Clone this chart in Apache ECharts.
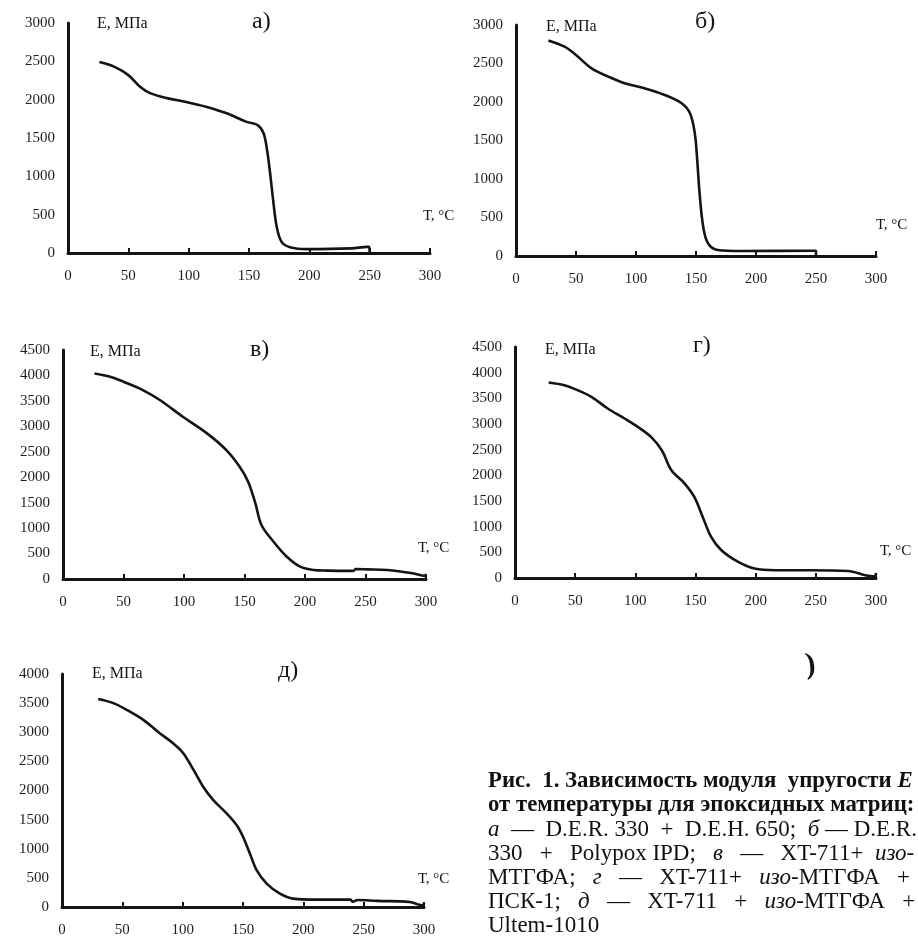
<!DOCTYPE html>
<html>
<head>
<meta charset="utf-8">
<title>Рис. 1</title>
<script src="https://cdn.jsdelivr.net/npm/echarts@6/dist/echarts.min.js"></script>
<style>
  html, body { margin: 0; padding: 0; background: #fff; }
  #chart { width: 918px; height: 938px; }
</style>
</head>
<body>
<div id="chart"></div>
<script>
// температура, °C и модуль E, МПа для каждой матрицы
var tempA = [26, 39, 50, 60, 68, 82, 98, 115, 131, 148, 157, 162, 165, 167.5, 170, 173, 177, 184, 198, 235, 248, 249.5, 250];
var modA  = [2490, 2425, 2320, 2165, 2085, 2020, 1970, 1905, 1825, 1710, 1670, 1565, 1340, 1040, 690, 340, 145, 75, 50, 60, 80, 80, 0];

var tempB = [27, 40.5, 50, 63, 77, 90.5, 107, 124, 138, 145, 149, 151, 153, 156, 160, 168, 188, 248, 250, 250];
var modB  = [2800, 2718, 2610, 2437, 2329, 2243, 2178, 2091, 1983, 1853, 1593, 1247, 814, 381, 165, 78, 65, 69, 69, 0];

var tempV = [26, 39, 50, 66, 80, 99, 119, 135, 146, 153, 159, 164, 174, 185, 196, 207, 218, 240, 242, 251, 268, 289, 299, 300];
var modV  = [4040, 3975, 3877, 3713, 3517, 3189, 2862, 2534, 2206, 1912, 1487, 1061, 733, 438, 242, 177, 165, 160, 195, 190, 177, 112, 60, 100];

var tempG = [28, 41, 52, 63.5, 77, 91, 102, 113, 122, 130, 141, 149, 156, 163, 171.5, 185.5, 199, 216, 244, 277, 291, 299, 300];
var modG  = [3810, 3756, 3659, 3528, 3302, 3107, 2944, 2749, 2489, 2099, 1840, 1579, 1189, 799, 540, 312, 183, 150, 150, 136, 53, 30, 100];

var tempD = [30, 42.5, 53.6, 67.4, 81, 92, 100.5, 109, 117, 125.4, 136.4, 144.7, 150, 155.7, 161.3, 169.6, 180.6, 191.6, 211, 239, 241, 245, 261, 288, 299, 300];
var modD  = [3570, 3500, 3386, 3213, 2984, 2812, 2640, 2353, 2065, 1836, 1607, 1406, 1205, 919, 632, 402, 230, 144, 126, 126, 90, 120, 105, 86, 30, 70];

var panelLetters = ['а)', 'б)', 'в)', 'г)', 'д)'];
var yMax = [3000, 3000, 4500, 4500, 4000];
var yName = 'Е, МПа';
var xName = 'Т, °С';

var captionLines = [
  [['b', 'Рис.  1. Зависимость модуля  упругости '], ['bi', 'E']],
  [['b', 'от температуры для эпоксидных матриц:']],
  [['i', 'а'], ['r', '  —  D.E.R. 330  +  D.E.H. 650;  '], ['i', 'б'], ['r', ' — D.E.R.']],
  [['r', '330   +   Polypox IPD;   '], ['i', 'в'], ['r', '   —   XT-711+  '], ['i', 'изо'], ['r', '-']],
  [['r', 'МТГФА;   '], ['i', 'г'], ['r', '   —   XT-711+   '], ['i', 'изо'], ['r', '-МТГФА   +']],
  [['r', 'ПСК-1;   '], ['i', 'д'], ['r', '   —   XT-711   +   '], ['i', 'изо'], ['r', '-МТГФА   +']],
  [['r', 'Ultem-1010']]
];

var font = 'Liberation Serif';
var ink = '#141414';

// пиксельная раскладка панелей
var grids = [
  { left: 68,  top: 23,  width: 362, height: 230 },
  { left: 516, top: 25,  width: 360, height: 231 },
  { left: 63,  top: 350, width: 363, height: 229 },
  { left: 515, top: 347, width: 361, height: 231 },
  { left: 62,  top: 674, width: 362, height: 233 }
];

function pairs(t, e) {
  return t.map(function (v, i) { return [v, e[i]]; });
}
var seriesData = [pairs(tempA, modA), pairs(tempB, modB), pairs(tempV, modV), pairs(tempG, modG), pairs(tempD, modD)];

var myChart = echarts.init(document.getElementById('chart'));

var xAxes = [], yAxes = [], series = [], graphic = [];
grids.forEach(function (g, i) {
  xAxes.push({
    gridIndex: i, type: 'value', min: 0, max: 300, interval: 50,
    axisLine: { show: true, lineStyle: { color: ink, width: 3 } },
    axisTick: { show: true, inside: true, length: 5, lineStyle: { color: ink, width: 2 } },
    axisLabel: { fontFamily: font, fontSize: 15, color: '#1e1e1e', margin: 16 },
    splitLine: { show: false }
  });
  yAxes.push({
    gridIndex: i, type: 'value', min: 0, max: yMax[i], interval: 500,
    axisLine: { show: true, lineStyle: { color: ink, width: 3 } },
    axisTick: { show: false },
    axisLabel: { fontFamily: font, fontSize: 15, color: '#1e1e1e', margin: 13,
      formatter: function (v) { return String(v); } },
    splitLine: { show: false }
  });
  series.push({
    type: 'line', xAxisIndex: i, yAxisIndex: i,
    data: seriesData[i],
    showSymbol: false, smooth: 0.35,
    lineStyle: { color: ink, width: 2.6 },
    animation: false
  });
});

// подписи осей и буквы панелей
var letterPos = [[252, 23], [695, 23], [250, 351], [693, 347], [278, 672]];
var yNamePos = [[97, 25], [546, 28], [90, 353], [545, 351], [92, 675]];
var xNamePos = [[423, 218], [876, 227], [418, 550], [880, 553], [418, 881]];
for (var i = 0; i < 5; i++) {
  graphic.push({ type: 'text', left: letterPos[i][0], top: letterPos[i][1] - 13,
    style: { text: panelLetters[i], font: '24px "' + font + '"', fill: ink } });
  graphic.push({ type: 'text', left: yNamePos[i][0], top: yNamePos[i][1] - 9,
    style: { text: yName, font: '16px "' + font + '"', fill: ink } });
  graphic.push({ type: 'text', left: xNamePos[i][0], top: xNamePos[i][1] - 9,
    style: { text: xName, font: '15px "' + font + '"', fill: ink } });
}
// след от скана под панелью г
graphic.push({ type: 'text', left: 804, top: 650, rotation: 0.1,
  style: { text: ')', font: 'bold 30px "' + font + '"', fill: ink } });

// подпись к рисунку
var rich = {
  b:  { fontFamily: font, fontSize: 22.8, fontWeight: 'bold', fill: '#111', lineHeight: 24 },
  bi: { fontFamily: font, fontSize: 22.8, fontWeight: 'bold', fontStyle: 'italic', fill: '#111', lineHeight: 24 },
  r:  { fontFamily: font, fontSize: 23, fill: '#111', lineHeight: 24 },
  i:  { fontFamily: font, fontSize: 23, fontStyle: 'italic', fill: '#111', lineHeight: 24 }
};
captionLines.forEach(function (line, k) {
  var txt = line.map(function (p) { return '{' + p[0] + '|' + p[1] + '}'; }).join('');
  graphic.push({ type: 'text', left: 488, top: 782 + 24 * k - 12,
    style: { text: txt, rich: rich } });
});

var option = {
  backgroundColor: '#fff',
  animation: false,
  grid: grids,
  xAxis: xAxes,
  yAxis: yAxes,
  series: series,
  graphic: graphic
};
myChart.setOption(option);
</script>
</body>
</html>
